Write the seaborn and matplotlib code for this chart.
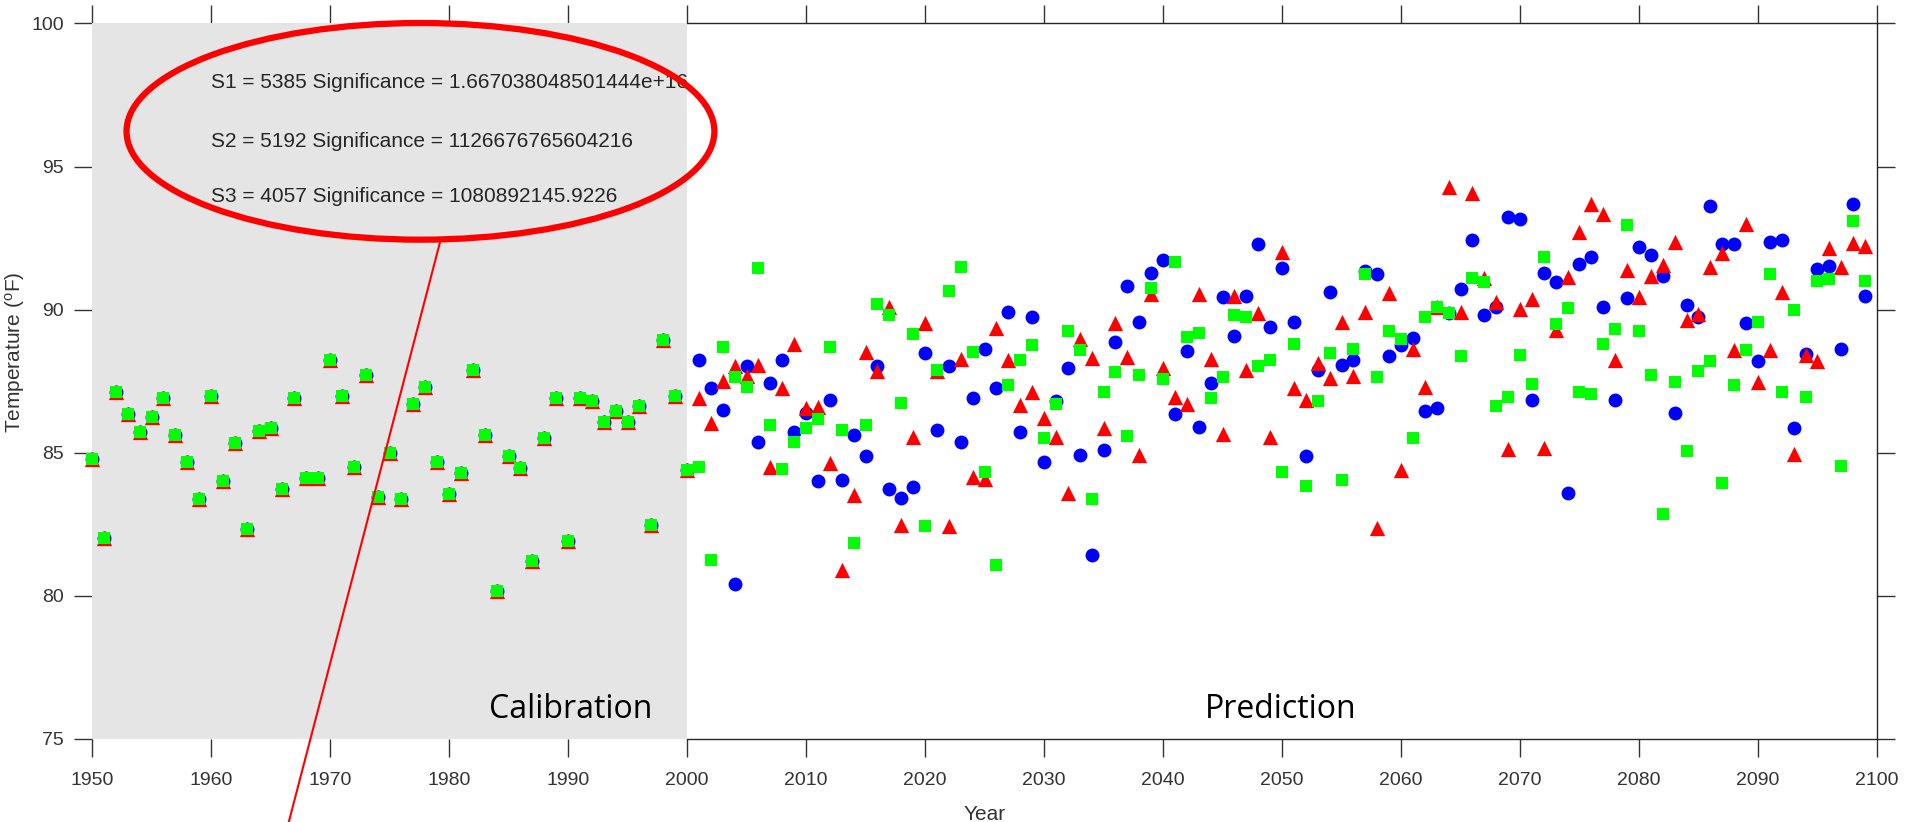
import numpy as np
import pandas as pd
import matplotlib
matplotlib.use("Agg")
import matplotlib.pyplot as plt
import seaborn as sns
from matplotlib.patches import Ellipse

# ---------------- data ----------------
calib_years = list(range(1950, 2001))
calib_temp = [84.78, 82.02, 87.13, 86.37, 85.74, 86.25, 86.90, 85.61, 84.68, 83.38,
              86.98, 84.00, 85.35, 82.32, 85.75, 85.86, 83.73, 86.90, 84.12, 84.12,
              88.25, 86.98, 84.51, 87.71, 83.45, 84.99, 83.38, 86.69, 87.30, 84.66,
              83.56, 84.28, 87.90, 85.61, 80.18, 84.90, 84.46, 81.22, 85.51, 86.90,
              81.92, 86.90, 86.81, 86.08, 86.46, 86.08, 86.63, 82.49, 88.95, 86.98,
              84.40]

pred_years = list(range(2001, 2100))
blue_temp = [88.25, 87.25, 86.48, 80.40, 88.04, 85.39, 87.42, 88.25, 85.71, 86.40,
             84.00, 86.86, 84.05, 85.63, 84.90, 88.04, 83.72, 83.43, 83.82, 88.47,
             85.79, 88.02, 85.38, 86.90, 88.63, 87.25, 89.93, 85.73, 89.76, 84.66,
             86.81, 87.96, 84.93, 81.42, 85.10, 88.87, 90.83, 89.58, 91.28, 91.72,
             86.34, 88.54, 85.90, 87.42, 90.45, 89.09, 90.49, 92.30, 89.38, 91.44,
             89.58, 84.90, 87.90, 90.60, 88.08, 88.25, 91.34, 91.23, 88.37, 88.75,
             89.00, 86.46, 86.57, 89.87, 90.72, 92.45, 89.81, 90.08, 93.23, 93.17,
             86.86, 91.28, 90.95, 83.60, 91.61, 91.84, 90.10, 86.86, 90.39, 92.19,
             91.90, 91.17, 86.40, 90.16, 89.76, 93.63, 92.30, 92.28, 89.55, 88.19,
             92.36, 92.45, 85.86, 88.45, 91.41, 91.52, 88.63, 93.69, 90.49]
red_temp = [86.92, 86.05, 87.52, 88.04, 87.67, 88.08, 84.49, 87.25, 88.81, 86.57,
            86.61, 84.63, 80.90, 83.54, 88.52, 87.85, 90.08, 82.47, 85.56, 89.53,
            87.85, 82.43, 88.29, 84.14, 84.09, 89.35, 88.25, 86.67, 87.13, 86.23,
            85.56, 83.59, 88.96, 88.31, 85.88, 89.53, 88.33, 84.93, 90.53, 87.96,
            86.96, 86.72, 90.53, 88.29, 85.65, 90.49, 87.88, 89.90, 85.56, 92.01,
            87.25, 86.83, 88.14, 87.62, 89.58, 87.67, 89.93, 82.37, 90.57, 84.41,
            88.63, 87.29, 90.08, 94.27, 89.91, 94.07, 91.09, 90.25, 85.13, 90.02,
            90.37, 85.16, 89.30, 91.15, 92.73, 93.69, 93.34, 88.25, 91.38, 90.43,
            91.17, 91.57, 92.36, 89.64, 89.85, 91.49, 91.99, 88.58, 93.00, 87.47,
            88.58, 90.60, 84.95, 88.43, 88.19, 92.15, 91.49, 92.34, 92.21]
green_temp = [84.49, 81.25, 88.69, 87.64, 87.29, 91.44, 85.96, 84.43, 85.39, 85.86,
              86.19, 88.69, 85.79, 81.86, 85.96, 90.20, 89.81, 86.75, 89.14, 82.43,
              87.90, 90.66, 91.49, 88.52, 84.32, 81.08, 87.35, 88.25, 88.75, 85.51,
              86.72, 89.26, 88.58, 83.37, 87.13, 87.81, 85.57, 87.70, 90.76, 87.58,
              91.67, 89.03, 89.20, 86.90, 87.64, 89.81, 89.76, 88.02, 88.25, 84.32,
              88.81, 83.83, 86.81, 88.48, 84.05, 88.63, 91.26, 87.64, 89.26, 88.97,
              85.51, 89.76, 90.10, 89.87, 88.37, 91.11, 90.95, 86.63, 86.96, 88.43,
              87.41, 91.84, 89.49, 90.05, 87.13, 87.07, 88.81, 89.32, 92.96, 89.26,
              87.70, 82.87, 87.48, 85.07, 87.85, 88.19, 83.95, 87.35, 88.58, 89.58,
              91.23, 87.13, 89.99, 86.96, 91.00, 91.06, 84.55, 93.08, 91.00]

x_ticks = list(range(1950, 2101, 10))
y_ticks = list(range(75, 101, 5))
stats_lines = ["S1 = 5385 Significance = 1.667038048501444e+16",
               "S2 = 5192 Significance = 1126676765604216",
               "S3 = 4057 Significance = 1080892145.9226"]

# ---------------- style ----------------
sns.set_theme(style="white")
plt.rcParams["font.family"] = ["Liberation Sans", "DejaVu Sans"]
plt.rcParams["mathtext.fontset"] = "custom"
plt.rcParams["mathtext.rm"] = "Liberation Sans"
plt.rcParams["mathtext.it"] = "Liberation Sans"
txt_col = "#333333"

fig = plt.figure(figsize=(19.05, 8.22), dpi=100)
ax = fig.add_axes([0.0483, 0.1010, 0.937, 0.8705])

ax.axvspan(1950, 2000, color="#e5e5e5", lw=0, zorder=2.6)

series = [
    (blue_temp, "#0000ff", "o", 100, 3.0),
    (red_temp, "#ff0000", "^", 121, 3.1),
    (green_temp, "#00ff00", "s", 64, 3.2),
]
for vals, col, mk, size, z in series:
    df = pd.DataFrame({"Year": calib_years + pred_years,
                       "Temp": calib_temp + vals})
    sns.scatterplot(data=df, x="Year", y="Temp", color=col, marker=mk, s=size,
                    linewidth=0, ax=ax, zorder=z, clip_on=False, legend=False)

ax.set_xlim(1950, 2100)
ax.set_ylim(75, 100)
ax.set_xticks(x_ticks)
ax.set_yticks(y_ticks)

ax.tick_params(axis="both", direction="out", length=13, width=1.0, color="#333333",
               labelcolor=txt_col, labelsize=14, top=True, right=True,
               bottom=True, left=True, labeltop=False, labelright=False)
ax.tick_params(axis="x", pad=11)
ax.tick_params(axis="y", pad=7)

for side in ["top", "bottom", "right", "left"]:
    ax.spines[side].set_color("#262626")
    ax.spines[side].set_linewidth(1.0)
ax.spines["left"].set_visible(False)
ax.spines["top"].set_bounds(2000, 2100)
ax.spines["bottom"].set_bounds(2000, 2100)

ax.set_xlabel("Year", fontsize=15, color=txt_col)
ax.xaxis.set_label_coords(0.5, -0.105)
ax.xaxis.label.set_va("center")
ax.set_ylabel(r"Temperature ($^{\mathrm{o}}$F)", fontsize=15, color=txt_col)
ax.yaxis.set_label_coords(-0.043, 0.54)
ax.yaxis.label.set_va("center")
ax.yaxis.label.set_ha("center")

# annotations
for ty, line in zip([97.92, 95.86, 93.94], stats_lines):
    ax.text(1960.0, ty, line, fontsize=15, color="#262626", va="center",
            ha="left", zorder=6)
ax.add_patch(Ellipse((1977.6, 96.23), width=49.4, height=7.57, fill=False,
                     edgecolor="#ff0000", lw=4.5, clip_on=False, zorder=6))
ax.plot([1979.24, 1966.16], [92.35, 71.5], color="#ff0000", lw=1.5,
        clip_on=False, zorder=6)

ax.text(1990.2, 75.72, "Calibration", fontsize=23, family=["Open Sans", "DejaVu Sans"],
        color="black", ha="center", va="baseline", zorder=6)
ax.text(2049.9, 75.72, "Prediction", fontsize=23, family=["Open Sans", "DejaVu Sans"],
        color="black", ha="center", va="baseline", zorder=6)

fig.savefig("out.png", dpi=100)
